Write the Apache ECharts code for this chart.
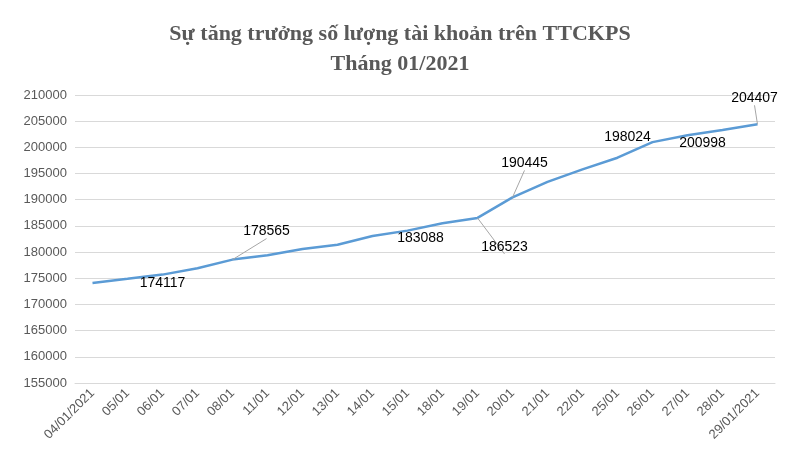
<!DOCTYPE html>
<html><head><meta charset="utf-8">
<script src="https://cdn.jsdelivr.net/npm/echarts@6/dist/echarts.min.js"></script>
<style>html,body{margin:0;padding:0;background:#fff}#c{width:800px;height:449px}</style>
</head><body><div id="c"></div>
<script>
const categories=['04/01/2021','05/01','06/01','07/01','08/01','11/01','12/01','13/01','14/01','15/01','18/01','19/01','20/01','21/01','22/01','25/01','26/01','27/01','28/01','29/01/2021'];
const values=[174117,174900,175700,176900,178565,179400,180600,181400,183088,184100,185500,186523,190445,193400,195800,198024,200998,202300,203300,204407];
const labelOffsets={0:[70,0,false],4:[34,-28,true],8:[48,2,false],11:[27,29,true],12:[12,-34,true],15:[10,-21,false],16:[50,1,false],19:[-3,-26,true]};
const data=values.map((v,i)=>{
  const o=labelOffsets[i];
  if(!o) return {value:v,label:{show:false}};
  return {value:v,label:{show:true,position:'inside',offset:[o[0],o[1]],formatter:'{c}',color:'#000',fontSize:14,fontFamily:'Liberation Sans'},labelLine:{show:o[2],lineStyle:{color:'#a6a6a6',width:1}}};
});
const chart=echarts.init(document.getElementById('c'));
chart.setOption({
  animation:false,
  title:{text:'Sự tăng trưởng số lượng tài khoản trên TTCKPS\nTháng 01/2021',left:'center',top:14,textStyle:{fontFamily:'Liberation Serif',fontWeight:'bold',fontSize:22,color:'#595959',lineHeight:30}},
  grid:{left:75,right:25,top:95,bottom:66},
  xAxis:{type:'category',data:categories,boundaryGap:true,axisTick:{show:false},axisLine:{lineStyle:{color:'#d9d9d9'}},axisLabel:{rotate:45,color:'#595959',fontSize:13,fontFamily:'Liberation Sans',interval:0,margin:8}},
  yAxis:{type:'value',min:155000,max:210000,interval:5000,axisLine:{show:false},axisTick:{show:false},splitLine:{lineStyle:{color:'#d9d9d9'}},axisLabel:{color:'#595959',fontSize:13,fontFamily:'Liberation Sans',formatter:v=>String(v)}},
  series:[{type:'line',data:data,symbol:'circle',symbolSize:0.01,showSymbol:true,lineStyle:{color:'#5b9bd5',width:2.5},itemStyle:{color:'#5b9bd5'}}]
});
</script></body></html>
